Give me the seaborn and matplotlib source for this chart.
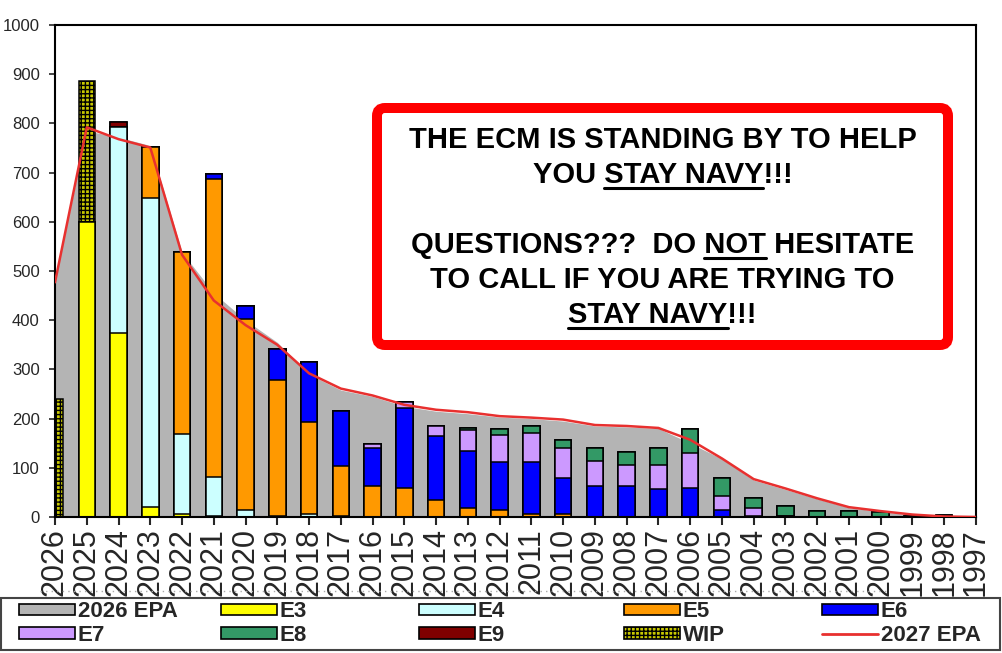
import matplotlib
matplotlib.use('Agg')
import matplotlib.pyplot as plt
import seaborn as sns
import numpy as np
from matplotlib.patches import Patch, FancyBboxPatch, Rectangle
from matplotlib.lines import Line2D

# categories (year groups), left to right
years = ['2026', '2025', '2024', '2023', '2022', '2021', '2020', '2019', '2018', '2017',
         '2016', '2015', '2014', '2013', '2012', '2011', '2010', '2009', '2008', '2007',
         '2006', '2005', '2004', '2003', '2002', '2001', '2000', '1999', '1998', '1997']

# area series (2026 EPA) and line series (2027 EPA)
epa_2026 = [482, 785, 772, 755, 538, 455, 400, 355, 290, 258,
            245, 225, 215, 210, 203, 200, 195, 185, 183, 180,
            150, 118, 75, 56, 37, 19, 11, 4, 1, 0]
epa_2027 = [477, 792, 768, 751, 533, 440, 390, 350, 292, 261,
            247, 228, 218, 213, 205, 202, 198, 187, 185, 181,
            157, 119, 77, 58, 38, 20, 12, 5, 1, 0]

# stacked bar series
e3 = [0, 600, 375, 20, 7, 3, 0, 0, 0, 0, 0, 0, 0, 0, 0, 0, 0, 0, 0, 0,
      0, 0, 0, 0, 0, 0, 0, 0, 0, 0]
e4 = [0, 0, 418, 628, 161, 78, 15, 3, 7, 3, 0, 0, 0, 0, 0, 0, 0, 0, 0, 0,
      0, 0, 0, 0, 0, 0, 0, 0, 0, 0]
e5 = [0, 0, 0, 105, 370, 607, 388, 275, 186, 100, 63, 58, 34, 18, 14, 7, 7, 0, 0, 0,
      0, 0, 0, 0, 0, 0, 0, 0, 0, 0]
e6 = [0, 0, 0, 0, 0, 9, 26, 63, 123, 112, 78, 163, 131, 117, 98, 105, 72, 63, 63, 56,
      59, 15, 3, 3, 0, 0, 0, 0, 0, 0]
e7 = [0, 0, 0, 0, 0, 0, 0, 0, 0, 0, 8, 12, 20, 41, 55, 59, 61, 51, 43, 50,
      72, 28, 15, 0, 0, 0, 0, 0, 0, 0]
e8 = [0, 0, 0, 0, 0, 0, 0, 0, 0, 0, 0, 0, 0, 5, 11, 14, 17, 27, 26, 35,
      47, 37, 21, 20, 12, 12, 10, 0, 0, 0]
e9 = [0, 0, 10, 0, 0, 0, 0, 0, 0, 0, 0, 0, 0, 0, 0, 0, 0, 0, 0, 0,
      0, 0, 0, 0, 0, 0, 0, 2, 4, 0]
wip = [240, 286, 0, 0, 0, 0, 0, 0, 0, 0, 0, 0, 0, 0, 0, 0, 0, 0, 0, 0,
       0, 0, 0, 0, 0, 0, 0, 0, 0, 0]

sns.set_style('ticks')
plt.rcParams['font.family'] = ['Liberation Sans', 'DejaVu Sans']
plt.rcParams['hatch.linewidth'] = 1.0

GRAY = '#B4B4B4'
RED_LINE = '#E8302F'
layers = [
    ('E3', e3, '#FFFF00', None),
    ('E4', e4, '#CCFFFF', None),
    ('E5', e5, '#FF9900', None),
    ('E6', e6, '#0000FF', None),
    ('E7', e7, '#CC99FF', None),
    ('E8', e8, '#339966', None),
    ('E9', e9, '#800000', None),
    ('WIP', wip, '#C8C800', '++++'),
]

fig = plt.figure(figsize=(10.03, 6.53), dpi=100)
ax = fig.add_axes([55 / 1003, 136 / 653, (976 - 55) / 1003, (517 - 25) / 653])

xpos = np.arange(len(years))
ax.fill_between(xpos, epa_2026, color=GRAY, lw=0, zorder=1)

# stacked bars: draw cumulative totals from the top layer down
tops = []
running = np.zeros(len(years))
for name, vals, color, hatch in layers:
    running = running + np.array(vals)
    tops.append(running.copy())
for (name, vals, color, hatch), top in reversed(list(zip(layers, tops))):
    sns.barplot(x=years, y=top, order=years, color=color, saturation=1, width=0.52,
                errorbar=None, edgecolor='black', linewidth=1.1, hatch=hatch,
                zorder=2, ax=ax)

sns.lineplot(x=xpos, y=epa_2027, color=RED_LINE, lw=1.8, zorder=4, legend=False, ax=ax)

ax.set_xlim(0, len(years) - 1)
ax.set_ylim(0, 1000)
ax.set_yticks(range(0, 1001, 100))
ax.set_xticks(xpos)
ax.set_xticklabels(years, rotation=90)
ax.set_xlabel('')
ax.set_ylabel('')
ax.tick_params(axis='x', direction='out', length=6, width=1.5, pad=2, labelsize=22)
ax.tick_params(axis='y', direction='out', length=4, width=1.2, pad=7, labelsize=12)
for sp in ax.spines.values():
    sp.set_linewidth(1.5)
    sp.set_color('black')

# call-out box
box = FancyBboxPatch((377 / 100, (653 - 345) / 100), (948 - 377) / 100, (345 - 108) / 100,
                     boxstyle='round,pad=0,rounding_size=0.08', transform=fig.dpi_scale_trans,
                     facecolor='white', edgecolor='#FF0000', linewidth=7.2, zorder=5)
fig.add_artist(box)

renderer = fig.canvas.get_renderer()


def text_width(s):
    t = fig.text(0, 0, s, fontsize=21, fontweight='bold')
    w = t.get_window_extent(renderer).width
    t.remove()
    return w


cx = 662.5
msg = [
    ('THE ECM IS STANDING BY TO HELP', None, 148),
    ('YOU STAY NAVY!!!', ('YOU STAY NAVY', 'STAY NAVY'), 183),
    ('QUESTIONS???  DO NOT HESITATE', ('QUESTIONS???  DO NOT', 'NOT'), 253),
    ('TO CALL IF YOU ARE TRYING TO', None, 288),
    ('STAY NAVY!!!', ('STAY NAVY', 'STAY NAVY'), 323),
]
for s, under, base in msg:
    fig.text(cx / 1003, (653 - base) / 653, s, ha='center', va='baseline',
             fontsize=21, fontweight='bold', color='black', zorder=6)
    if under:
        left = cx - text_width(s) / 2
        x_end = left + text_width(under[0])
        x_start = x_end - text_width(under[1])
        fig.add_artist(Line2D([x_start / 100, x_end / 100], [(653 - base - 5) / 100] * 2,
                              transform=fig.dpi_scale_trans, color='black', lw=2.2, zorder=6))

# dotted separator and legend frame
fig.add_artist(Line2D([0.40, 8.9], [0.62, 0.62], transform=fig.dpi_scale_trans,
                      color='#AAAAAA', ls=(0, (1, 3)), lw=1))
fig.add_artist(Rectangle((0.01, 0.03), 9.99, 0.52, transform=fig.dpi_scale_trans,
                         facecolor='none', edgecolor='#444444', lw=1.5))

handles = {name: Patch(facecolor=color, edgecolor='black', lw=1.2, hatch=hatch)
           for name, vals, color, hatch in layers}
handles['2026 EPA'] = Patch(facecolor=GRAY, edgecolor='black', lw=1.2)
handles['2027 EPA'] = Line2D([], [], color=RED_LINE, lw=2)
columns = [('2026 EPA', 'E7'), ('E3', 'E8'), ('E4', 'E9'), ('E5', 'WIP'), ('E6', '2027 EPA')]
col_x = [19, 221, 419, 624, 822]
for (top_lbl, bot_lbl), x in zip(columns, col_x):
    fig.legend([handles[top_lbl], handles[bot_lbl]], [top_lbl, bot_lbl],
               loc='center left', bbox_to_anchor=(x / 1003, (653 - 623.5) / 653),
               frameon=False, borderpad=0, borderaxespad=0, handlelength=2.5,
               handleheight=0.45, handletextpad=0.15, labelspacing=0.1,
               prop={'size': 16, 'weight': 'bold'})

fig.savefig('out.png', dpi=100)
